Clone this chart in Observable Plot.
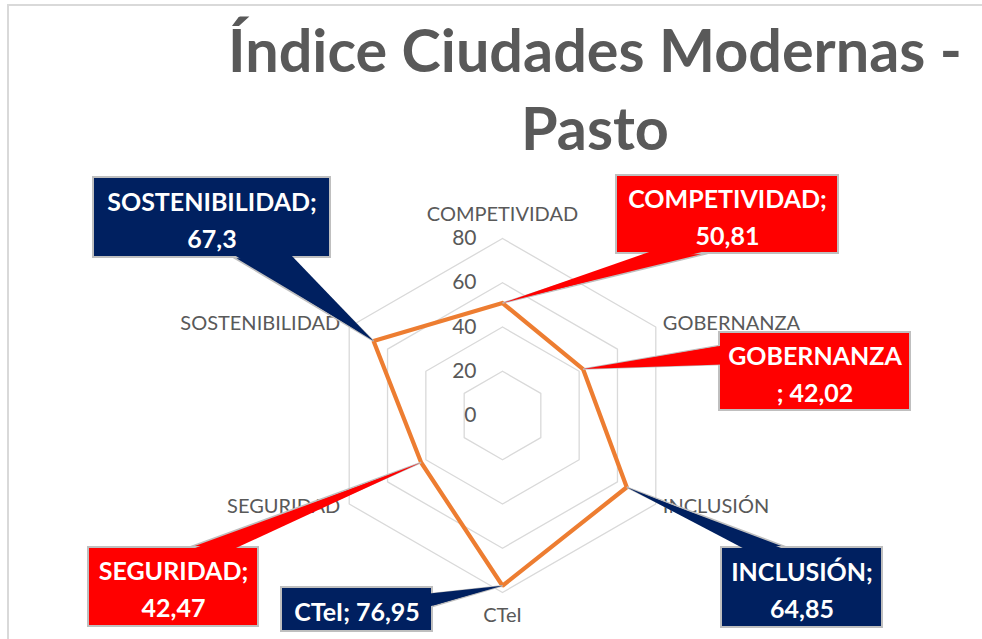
<!DOCTYPE html>
<html>
<head>
<meta charset="utf-8">
<script src="https://cdn.jsdelivr.net/npm/d3@7"></script>
<script src="https://cdn.jsdelivr.net/npm/@observablehq/plot@0.6"></script>
<style>
  body { margin: 0; background: #fff; }
  #wrap { position: relative; width: 982px; height: 639px; overflow: hidden; background: #fff; }
  #frame { position: absolute; left: 7px; top: 4px; width: 990px; height: 650px;
           border-top: 2px solid #d9d9d9; border-left: 2px solid #d9d9d9; }
  #title { position: absolute; left: 0; top: 0; width: 982px; height: 165px;
           font-family: Lato, "Open Sans", sans-serif; font-weight: 700; color: #595959; }
  #title div { position: absolute; white-space: nowrap; transform: translateX(-50%); left: 595px; }
  #chart { position: absolute; left: 0; top: 165px; }
</style>
</head>
<body>
<div id="wrap">
  <div id="frame"></div>
  <div id="title"><div id="t1">Índice Ciudades Modernas -</div><div id="t2">Pasto</div></div>
  <div id="chart"></div>
</div>
<script>
// ---- data ----
const categories = ["COMPETIVIDAD", "GOBERNANZA", "INCLUSIÓN", "CTeI", "SEGURIDAD", "SOSTENIBILIDAD"];
const values = [50.81, 42.02, 64.85, 76.95, 42.47, 67.3];
const ringTicks = [0, 20, 40, 60, 80];
const calloutColorKey = ["red", "red", "navy", "navy", "red", "navy"];
const calloutSeparator = [";\n", "\n; ", ";\n", "; ", ";\n", ";\n"];

// ---- layout (page pixels) ----
const W = 982, H = 639, TOP = 165;
const CX = 502, CY = 415, K = 2.2125;     // center, px per unit
const palette = { red: "#FF0000", navy: "#002060" };
// callout boxes [x1, y1, x2, y2] and tail base [bx1, by1, bx2, by2, side]
const boxes = [
  [616, 175, 838, 253],
  [719, 332, 910, 410],
  [721, 547, 882, 627],
  [281, 587, 432, 631],
  [88, 547, 258, 626],
  [93, 177, 330, 257]
];
const tails = [
  [653, 253, 707, 253, "bottom"],
  [719, 345, 719, 364, "left"],
  [747, 547, 787, 547, "top"],
  [432, 593, 432, 606, "right"],
  [188, 547, 230, 547, "top"],
  [233, 257, 290, 257, "bottom"]
];
const labelOffsets = [
  { dx: 0, dy: -24, anchor: "middle" },
  { dx: 7, dy: -3, anchor: "start" },
  { dx: 7, dy: 3, anchor: "start" },
  { dx: 0, dy: 23, anchor: "middle" },
  { dx: -9, dy: 3, anchor: "end" },
  { dx: -9, dy: -3, anchor: "end" }
];

// ---- title fit ----
const t1 = document.getElementById("t1"), t2 = document.getElementById("t2");
let fs = 60;
t1.style.fontSize = fs + "px";
const w1 = t1.getBoundingClientRect().width;
fs = fs * 734 / w1;
for (const t of [t1, t2]) { t.style.fontSize = fs + "px"; t.style.lineHeight = "1"; }
t1.style.top = (73 - fs * 0.887) + "px";
t2.style.top = (151 - fs * 0.887) + "px";

// ---- helpers ----
const px = x => (x - CX) / K;
const py = y => (CY - y) / K;
const ang = i => i * Math.PI / 3;
const maxR = d3.max(ringTicks);

const gridData = ringTicks.filter(r => r > 0).flatMap(r =>
  d3.range(7).map(i => ({ r, x: r * Math.sin(ang(i % 6)), y: r * Math.cos(ang(i % 6)) })));
const radar = d3.range(7).map(i => ({
  x: values[i % 6] * Math.sin(ang(i % 6)),
  y: values[i % 6] * Math.cos(ang(i % 6))
}));
const axisLabels = categories.map((c, i) => ({
  c, i, x: maxR * Math.sin(ang(i)), y: maxR * Math.cos(ang(i))
}));

const fmt = v => String(v).replace(".", ",");
const font = "Lato, 'Open Sans', sans-serif";

const marks = [
  Plot.line(gridData, { x: "x", y: "y", z: "r", stroke: "#d9d9d9", strokeWidth: 1.3 }),
  Plot.line(radar, { x: "x", y: "y", stroke: "#ED7D31", strokeWidth: 4.2, strokeLinejoin: "miter" }),
  Plot.text(ringTicks, { x: 0, y: d => d, text: d => String(d), dx: -26, textAnchor: "end",
    fill: "#595959", fontSize: 21, fontFamily: font })
];
for (const l of axisLabels) {
  const o = labelOffsets[l.i];
  marks.push(Plot.text([l], { x: "x", y: "y", text: "c", dx: o.dx, dy: o.dy, textAnchor: o.anchor,
    fill: "#595959", fontSize: 20, fontFamily: font }));
}
categories.forEach((c, i) => {
  const color = palette[calloutColorKey[i]];
  const b = boxes[i], t = tails[i];
  const apex = { x: radar[i].x, y: radar[i].y };
  const poly = [{ x: px(t[0]), y: py(t[1]) }, apex, { x: px(t[2]), y: py(t[3]) }, { x: px(t[0]), y: py(t[1]) }];
  const s = 3;
  const sh = { bottom: [0, -s], top: [0, s], left: [s, 0], right: [-s, 0] }[t[4]];
  const poly2 = [{ x: px(t[0] + sh[0]), y: py(t[1] + sh[1]) }, apex, { x: px(t[2] + sh[0]), y: py(t[3] + sh[1]) }];
  marks.push(Plot.line(poly, { x: "x", y: "y", fill: color, stroke: "#bfbfbf", strokeWidth: 1.6, strokeLinejoin: "miter" }));
  marks.push(Plot.rect([b], { x1: d => px(d[0]), x2: d => px(d[2]), y1: d => py(d[1]), y2: d => py(d[3]),
    fill: color, stroke: "#bfbfbf", strokeWidth: 2 }));
  marks.push(Plot.line(poly2, { x: "x", y: "y", fill: color, stroke: "none" }));
  marks.push(Plot.text([b], { x: d => px((d[0] + d[2]) / 2), y: d => py((d[1] + d[3]) / 2),
    text: () => c + calloutSeparator[i] + fmt(values[i]), lineHeight: 1.48,
    fill: "white", fontSize: 25, fontWeight: 700, fontFamily: font, textAnchor: "middle" }));
});

const chartH = H - TOP;
const plot = Plot.plot({
  width: W, height: chartH, margin: 0,
  x: { domain: [px(0), px(W)], range: [0, W], axis: null },
  y: { domain: [py(H), py(TOP)], range: [chartH, 0], axis: null },
  style: { background: "transparent", overflow: "visible" },
  marks
});
document.getElementById("chart").appendChild(plot);
</script>
</body>
</html>
